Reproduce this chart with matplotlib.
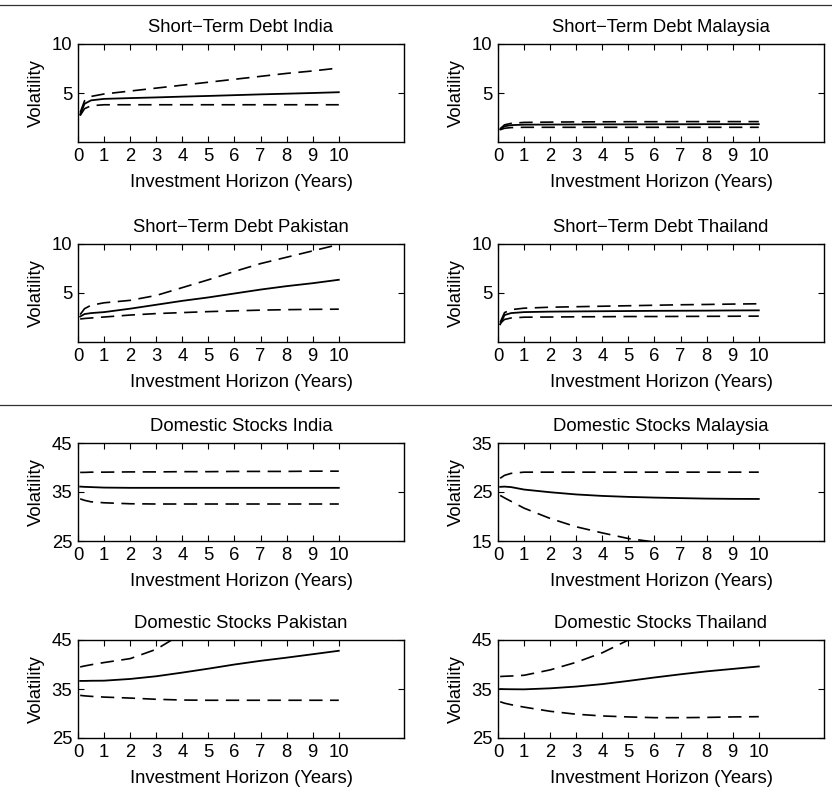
import matplotlib
matplotlib.use("Agg")
import numpy as np
from matplotlib import pyplot as plt
from matplotlib.lines import Line2D

plt.rcParams['font.family'] = ['Liberation Sans', 'DejaVu Sans']
plt.rcParams['font.size'] = 13.3

# investment horizons (years)
horizon = [0.083, 0.25, 0.5, 1, 2, 3, 4, 5, 6, 7, 8, 9, 10]

# short-term debt: mean volatility and upper / lower bands
debt_india = [2.8, 3.9, 4.25, 4.4, 4.48, 4.55, 4.63, 4.7, 4.78, 4.86, 4.93, 5.0, 5.08]
debt_india_hi = [3.0, 4.2, 4.65, 4.9, 5.2, 5.5, 5.8, 6.1, 6.4, 6.7, 7.0, 7.25, 7.55]
debt_india_lo = [2.7, 3.4, 3.7, 3.8, 3.8, 3.8, 3.8, 3.8, 3.8, 3.8, 3.8, 3.8, 3.8]

debt_malaysia = [1.3, 1.6, 1.72, 1.77, 1.78, 1.79, 1.8, 1.8, 1.81, 1.81, 1.82, 1.82, 1.82]
debt_malaysia_hi = [1.35, 1.75, 1.9, 2.0, 2.03, 2.05, 2.06, 2.07, 2.07, 2.08, 2.08, 2.08, 2.08]
debt_malaysia_lo = [1.25, 1.4, 1.47, 1.5, 1.5, 1.5, 1.5, 1.5, 1.5, 1.5, 1.5, 1.5, 1.5]

debt_pakistan = [2.6, 2.85, 2.95, 3.05, 3.4, 3.8, 4.2, 4.55, 4.95, 5.35, 5.7, 6.0, 6.35]
debt_pakistan_hi = [2.8, 3.4, 3.75, 4.0, 4.25, 4.75, 5.55, 6.35, 7.2, 8.0, 8.65, 9.3, 9.95]
debt_pakistan_lo = [2.35, 2.4, 2.45, 2.55, 2.75, 2.9, 3.0, 3.1, 3.18, 3.25, 3.3, 3.33, 3.35]

debt_thailand = [1.8, 2.75, 2.95, 3.05, 3.1, 3.12, 3.14, 3.16, 3.18, 3.19, 3.2, 3.22, 3.23]
debt_thailand_hi = [2.0, 3.0, 3.3, 3.45, 3.55, 3.6, 3.65, 3.7, 3.75, 3.8, 3.83, 3.87, 3.9]
debt_thailand_lo = [1.9, 2.3, 2.45, 2.53, 2.55, 2.57, 2.58, 2.6, 2.6, 2.61, 2.62, 2.63, 2.64]

# domestic stocks
stock_india = [36.1, 36.05, 36.0, 35.9, 35.85, 35.85, 35.85, 35.85, 35.85, 35.85, 35.85, 35.85, 35.85]
stock_india_hi = [39.0, 39.0, 39.05, 39.05, 39.1, 39.1, 39.15, 39.15, 39.2, 39.2, 39.2, 39.25, 39.25]
stock_india_lo = [33.6, 33.3, 33.0, 32.8, 32.6, 32.55, 32.55, 32.55, 32.55, 32.55, 32.55, 32.55, 32.55]

stock_malaysia = [26.05, 26.1, 26.0, 25.5, 24.95, 24.5, 24.2, 24.0, 23.86, 23.75, 23.65, 23.6, 23.58]
stock_malaysia_hi = [27.8, 28.4, 28.8, 29.05, 29.05, 29.05, 29.05, 29.05, 29.05, 29.05, 29.05, 29.05, 29.05]
stock_malaysia_lo = [24.3, 23.8, 23.1, 21.7, 19.6, 17.9, 16.65, 15.5, 14.8, 14.2, 13.7, 13.3, 13.0]

stock_pakistan = [36.65, 36.65, 36.68, 36.7, 37.05, 37.6, 38.35, 39.15, 40.0, 40.75, 41.4, 42.1, 42.8]
stock_pakistan_hi = [39.5, 39.7, 39.95, 40.4, 41.2, 43.1, 46.3, 49.5, 52.5, 55.5, 58.5, 61.5, 64.5]
stock_pakistan_lo = [33.7, 33.6, 33.5, 33.35, 33.15, 32.9, 32.75, 32.7, 32.7, 32.7, 32.7, 32.7, 32.7]

stock_thailand = [35.0, 34.97, 34.95, 34.93, 35.14, 35.5, 36.0, 36.65, 37.35, 38.0, 38.6, 39.1, 39.6]
stock_thailand_hi = [37.55, 37.6, 37.65, 37.8, 38.9, 40.45, 42.4, 45.0, 47.5, 50.0, 52.5, 55.0, 57.5]
stock_thailand_lo = [32.4, 32.1, 31.8, 31.3, 30.45, 29.85, 29.5, 29.3, 29.15, 29.15, 29.2, 29.3, 29.35]

panels = [
    ("Short\u2212Term Debt India", debt_india, debt_india_hi, debt_india_lo, (0, 10), [5, 10]),
    ("Short\u2212Term Debt Malaysia", debt_malaysia, debt_malaysia_hi, debt_malaysia_lo, (0, 10), [5, 10]),
    ("Short\u2212Term Debt Pakistan", debt_pakistan, debt_pakistan_hi, debt_pakistan_lo, (0, 10), [5, 10]),
    ("Short\u2212Term Debt Thailand", debt_thailand, debt_thailand_hi, debt_thailand_lo, (0, 10), [5, 10]),
    ("Domestic Stocks India", stock_india, stock_india_hi, stock_india_lo, (25, 45), [25, 35, 45]),
    ("Domestic Stocks Malaysia", stock_malaysia, stock_malaysia_hi, stock_malaysia_lo, (15, 35), [15, 25, 35]),
    ("Domestic Stocks Pakistan", stock_pakistan, stock_pakistan_hi, stock_pakistan_lo, (25, 45), [25, 35, 45]),
    ("Domestic Stocks Thailand", stock_thailand, stock_thailand_hi, stock_thailand_lo, (25, 45), [25, 35, 45]),
]

W, H = 832, 794
fig = plt.figure(figsize=(W / 100, H / 100), dpi=100)

# axes boxes in pixels: left, top
lefts = [78, 498]
tops = [44, 244, 443, 640]
ax_w, ax_h = 326, 98

for i, (title, mid, hi, lo, ylim, yticks) in enumerate(panels):
    row, col = divmod(i, 2)
    ax = fig.add_axes([lefts[col] / W, 1 - (tops[row] + ax_h) / H, ax_w / W, ax_h / H])
    ax.plot(horizon, mid, color='black', lw=1.3)
    ax.plot(horizon, hi, color='black', lw=1.2, linestyle=(0, (8, 4.5)))
    ax.plot(horizon, lo, color='black', lw=1.2, linestyle=(0, (8, 4.5)))
    ax.set_xlim(0, 12.5)
    ax.set_ylim(*ylim)
    ax.set_xticks(range(11))
    ax.set_yticks(yticks)
    ax.tick_params(direction='in', top=True, right=True, length=4, width=0.8,
                   labelsize=13.3, pad=4)
    for s in ax.spines.values():
        s.set_linewidth(1.0)
    ax.set_title(title, fontsize=13.3, pad=9)
    ax.set_xlabel("Investment Horizon (Years)", fontsize=13.3, labelpad=7)
    ax.set_ylabel("Volatility", fontsize=13.3, labelpad=5)

# separator rules
for y in [5, 405]:
    fig.add_artist(Line2D([0, 1], [1 - y / H, 1 - y / H], transform=fig.transFigure,
                          color='#333333', lw=0.9))

fig.savefig("out.png", dpi=100)
